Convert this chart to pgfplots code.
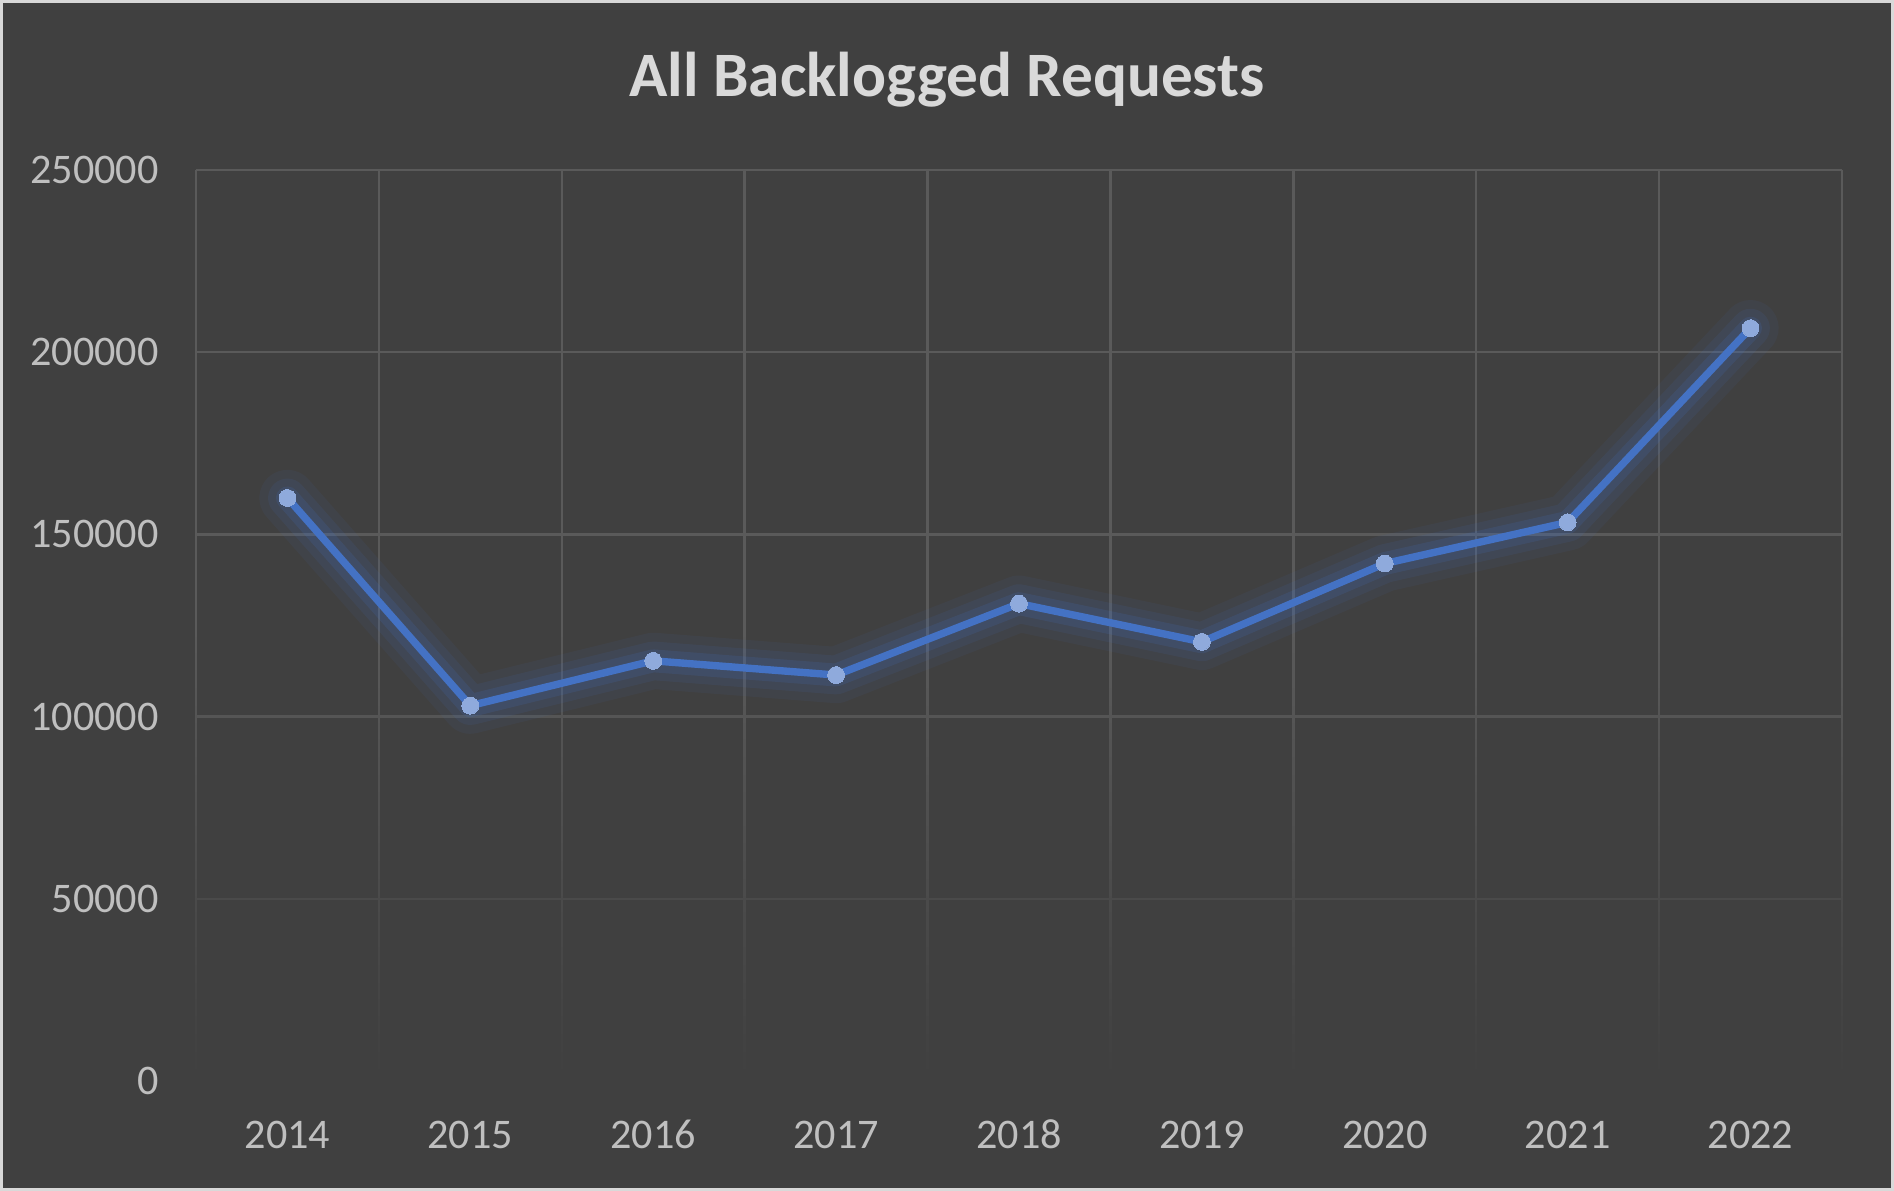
\documentclass[border=0pt]{standalone}
\usepackage{pgfplots}
\pgfplotsset{compat=1.18}
\usepackage{fontspec}
\setmainfont{Carlito}
\usetikzlibrary{fadings}
\definecolor{bg}{HTML}{404040}
\definecolor{gridc}{HTML}{5A5A5A}
\definecolor{lineblue}{HTML}{4472C4}
\definecolor{markblue}{HTML}{8FAADC}
\definecolor{ticktxt}{HTML}{BFBFBF}
\definecolor{titletxt}{HTML}{D9D9D9}
\tikzfading[name=myfade, top color=transparent!100, bottom color=transparent!0]

\pgfplotstableread{
x y
0 160000
1 103000
2 115300
3 111400
4 131000
5 120500
6 142000
7 153300
8 206600
}\backlog

\begin{document}
\begin{tikzpicture}[x=1mm,y=1mm]
\fill[bg] (0,0) rectangle (189.4,119.1);
\path[use as bounding box] (0,0) rectangle (189.4,119.1);
\draw[color=titletxt, line width=0.3mm] (0.15,0.15) rectangle (189.25,118.95);
\node[text=titletxt, font=\fontsize{18}{22}\selectfont\bfseries] at (94.7,111.1) {All Backlogged Requests};
\begin{axis}[
  at={(19.6mm,11.0mm)}, anchor=south west,
  scale only axis, width=164.6mm, height=91.1mm,
  xmin=-0.5, xmax=8.5, ymin=0, ymax=250000,
  xtick={0,1,2,3,4,5,6,7,8},
  xticklabels={2014,2015,2016,2017,2018,2019,2020,2021,2022},
  minor xtick={-0.5,0.5,1.5,2.5,3.5,4.5,5.5,6.5,7.5,8.5},
  ytick={0,50000,100000,150000,200000,250000},
  xmajorgrids=false, xminorgrids=true, ymajorgrids=true,
  major grid style={gridc, line width=0.7pt},
  minor grid style={gridc, line width=0.7pt},
  axis line style={draw=none},
  tick style={draw=none},
  major tick length=0pt, minor tick length=0pt,
  scaled y ticks=false,
  /pgf/number format/.cd, fixed, 1000 sep={}, assume math mode=true,
  /pgfplots/.cd,
  ticklabel style={font=\fontsize{12}{14}\selectfont, text=ticktxt},
  xticklabel style={yshift=-2.6mm, text height=2.9mm, text depth=0pt},
  yticklabel style={xshift=-2.5mm},
  clip=false,
]
\fill[bg, path fading=myfade] (axis cs:-0.55,-1000) rectangle (axis cs:8.55,122000);
\addplot[lineblue, line width=16pt, opacity=0.07, line join=round, line cap=round] table[x=x,y=y] {\backlog};
\addplot[lineblue, line width=11pt, opacity=0.10, line join=round, line cap=round] table[x=x,y=y] {\backlog};
\addplot[lineblue, line width=6.5pt, opacity=0.16, line join=round, line cap=round] table[x=x,y=y] {\backlog};
\addplot[lineblue, line width=2.1pt, line join=round, mark=*, mark size=2.4pt, mark options={fill=markblue, draw=markblue, line width=0pt}] table[x=x,y=y] {\backlog};
\end{axis}
\end{tikzpicture}
\end{document}
